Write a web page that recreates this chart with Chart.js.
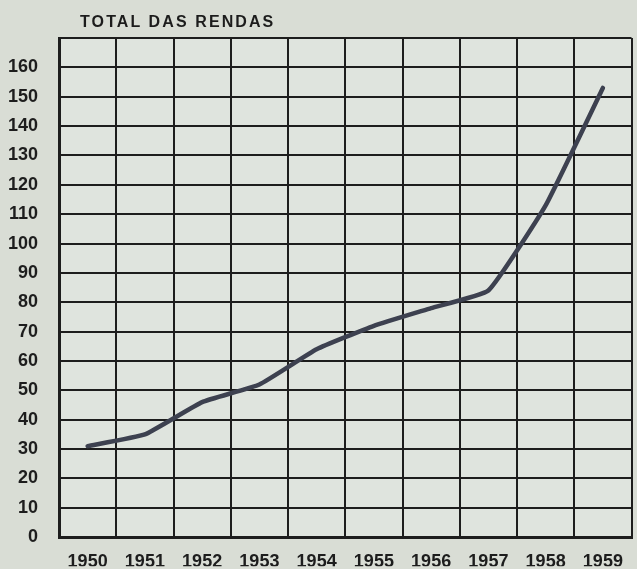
<!DOCTYPE html>
<html>
<head>
<meta charset="utf-8">
<script src="https://cdn.jsdelivr.net/npm/chart.js@4"></script>
<style>
  html, body { margin:0; padding:0; background:#d9ddd5; }
  #wrap { position:relative; width:637px; height:569px; }
  #title {
    position:absolute; left:80px; top:13px; line-height:16px;
    font:bold 16px "Liberation Sans", Arial, sans-serif; letter-spacing:2.1px;
    color:#1c1c1c; white-space:nowrap;
  }
  canvas { display:block; }
</style>
</head>
<body>
<div id="wrap">
  <div id="title">TOTAL DAS RENDAS</div>
  <canvas id="chart" width="637" height="569"></canvas>
</div>
<script>
// values
const years = ["1950","1951","1952","1953","1954","1955","1956","1957","1958","1959"];
const rendas = [31, 35, 46, 52, 64, 72, 78, 84, 113, 153];
const Y_MIN = 0, Y_MAX = 170, Y_STEP = 10;

const INK = "#1d1d1d";
const FONT = {family:'"Liberation Sans", Arial, sans-serif', size:18, weight:'bold'};

// paper tint inside the grid
const paper = {
  id:'paper',
  beforeDraw(chart) {
    const {ctx, chartArea:a} = chart;
    ctx.save();
    ctx.fillStyle = "#dfe4de";
    ctx.fillRect(a.left, a.top, a.right - a.left, a.bottom - a.top);
    ctx.restore();
  }
};

new Chart(document.getElementById("chart"), {
  type:'line',
  data:{
    labels: years,
    datasets:[{
      data: rendas,
      borderColor:"#3d4150",
      borderWidth:4.5,
      pointRadius:0,
      tension:0.12,
      borderCapStyle:'round',
      borderJoinStyle:'round',
      fill:false
    }]
  },
  options:{
    responsive:false,
    animation:false,
    layout:{padding:{top:38, right:2, left:0, bottom:0}},
    plugins:{legend:{display:false}, tooltip:{enabled:false}},
    scales:{
      x:{
        offset:true,
        grid:{offset:true, color:INK, lineWidth:2, drawTicks:false},
        border:{color:INK, width:3},
        ticks:{color:INK, font:FONT, padding:14, maxRotation:0, autoSkip:false},
        afterFit(s){ s.height = 29; }
      },
      y:{
        min:Y_MIN, max:Y_MAX,
        grid:{color:INK, lineWidth:2, drawTicks:false},
        border:{color:INK, width:3},
        ticks:{
          stepSize:Y_STEP, color:INK, font:FONT, padding:21,
          callback:v => v === Y_MAX ? "" : v
        },
        afterFit(s){ s.width = 59; }
      }
    }
  },
  plugins:[paper]
});
</script>
</body>
</html>
